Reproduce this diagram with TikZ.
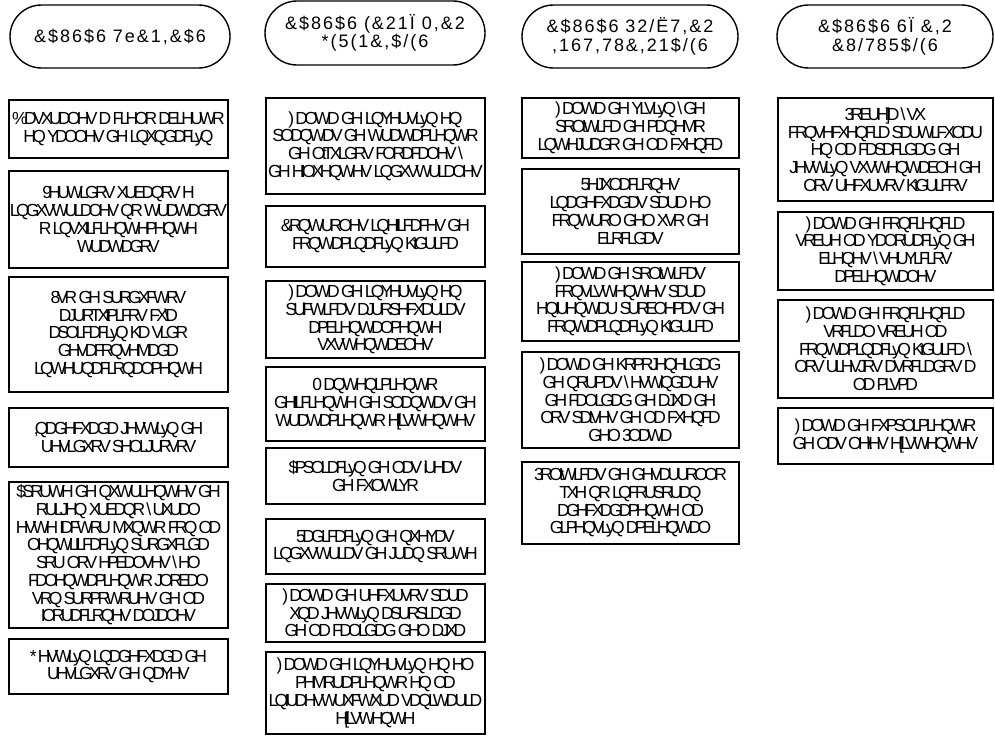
\documentclass[tikz,border=0pt]{standalone}
\usepackage{fontspec}
\setmainfont{Liberation Sans}
\newfontfamily\bodyf{Liberation Sans}[LetterSpace=-21]
\newfontfamily\headf{Liberation Sans}[LetterSpace=11]
\newcommand\bs{\textbackslash}
\usetikzlibrary{shapes.misc}
\tikzset{
  cause/.style={draw, line width=1.7pt, rectangle, align=center, inner sep=0pt,
    font=\bodyf\fontsize{17.5}{17.7}\selectfont},
  head/.style={draw, line width=1.4pt, rounded rectangle, align=center, inner sep=0pt,
    font=\headf\fontsize{18}{18.6}\selectfont},
}
\begin{document}
\begin{tikzpicture}[x=1pt,y=-1pt]
\useasboundingbox (0,0) rectangle (995,736);
% headers
\node[head, minimum width=220pt, minimum height=63pt] (h1) at (120,36.5) {\&\$86\$6 7e\&1,\&\$6};
\node[head, minimum width=220pt, minimum height=64pt] (h2) at (375,33) {\&\$86\$6 (\&21Ï 0,\&2\\{*}(5(1\&,\$/(6};
\node[head, minimum width=216pt, minimum height=63pt] (h3) at (630,36.5) {\&\$86\$6 32/Ë7,\&2\\,167,78\&,21\$/(6};
\node[head, minimum width=216pt, minimum height=63pt] (h4) at (885,36.5) {\&\$86\$6 6Ï \&,2\\\&8/785\$/(6};
% column 1
\node[cause, minimum width=219pt, minimum height=58pt] (a1) at (118.5,129) {\%DVXUDOHV D FLHOR DELHUWR\\HQ YDOOHV GH LQXQGDFLyQ};
\node[cause, minimum width=219pt, minimum height=97pt] (a2) at (118.5,219.5) {9HUWLGRV XUEDQRV H\\LQGXVWULDOHV QR WUDWDGRV\\R LQVXILFLHQWHPHQWH\\WUDWDGRV};
\node[cause, minimum width=219pt, minimum height=115pt] (a3) at (118.5,334.5) {8VR GH SURGXFWRV\\DJURTXtPLFRV FX\bs{}D\\DSOLFDFLyQ KD VLGR\\GHVDFRQVHMDGD\\LQWHUQDFLRQDOPHQWH};
\node[cause, minimum width=219pt, minimum height=59pt] (a4) at (118.5,437.5) {,QDGHFXDGD JHVWLyQ GH\\UHVLGXRV SHOLJURVRV};
\node[cause, minimum width=219pt, minimum height=146pt] (a5) at (118.5,555) {\$SRUWH GH QXWULHQWHV GH\\RULJHQ XUEDQR \bs{} UXUDO\\HVWH IDFWRU MXQWR FRQ OD\\OHQWLILFDFLyQ SURGXFLGD\\SRU ORV HPEDOVHV \bs{} HO\\FDOHQWDPLHQWR JOREDO\\VRQ SURPRWRUHV GH OD\\IORUDFLRQHV DOJDOHV};
\node[cause, minimum width=219pt, minimum height=55pt] (a6) at (118.5,666.5) {* HVWLyQ LQDGHFXDGD GH\\UHVLGXRV GH QDYHV};
% column 2
\node[cause, minimum width=219pt, minimum height=96pt] (b1) at (375.5,146) {) DOWD GH LQYHUVLyQ HQ\\SODQWDV GH WUDWDPLHQWR\\GH OtTXLGRV FORDFDOHV \bs{}\\GH HIOXHQWHV LQGXVWULDOHV};
\node[cause, minimum width=219pt, minimum height=61pt] (b2) at (375.5,236.5) {\&RQWUROHV LQHILFDFHV GH\\FRQWDPLQDFLyQ KtGULFD};
\node[cause, minimum width=219pt, minimum height=77pt] (b3) at (375.5,319.5) {) DOWD GH LQYHUVLyQ HQ\\SUiFWLFDV DJURSHFXDULDV\\DPELHQWDOPHQWH\\VXVWHQWDEOHV};
\node[cause, minimum width=219pt, minimum height=74pt] (b4) at (375.5,404) {0 DQWHQLPLHQWR\\GHILFLHQWH GH SODQWDV GH\\WUDWDPLHQWR H[LVWHQWHV};
\node[cause, minimum width=219pt, minimum height=56pt] (b5) at (375.5,476) {\$PSOLDFLyQ GH ODV iUHDV\\GH FXOWLYR};
\node[cause, minimum width=219pt, minimum height=55pt] (b6) at (375.5,546.5) {5DGLFDFLyQ GH QXHYDV\\LQGXVWULDV GH JUDQ SRUWH};
\node[cause, minimum width=219pt, minimum height=58pt] (b7) at (375.5,613) {) DOWD GH UHFXUVRV SDUD\\XQD JHVWLyQ DSURSLDGD\\GH OD FDOLGDG GHO DJXD};
\node[cause, minimum width=219pt, minimum height=82pt] (b8) at (375.5,693) {) DOWD GH LQYHUVLyQ HQ HO\\PHMRUDPLHQWR HQ OD\\LQIUDHVWUXFWXUD VDQLWDULD\\H[LVWHQWH};
% column 3
\node[cause, minimum width=217pt, minimum height=60pt] (c1) at (630.5,128) {) DOWD GH YLVLyQ \bs{} GH\\SROtWLFD GH PDQHMR\\LQWHJUDGR GH OD FXHQFD};
\node[cause, minimum width=217pt, minimum height=85pt] (c2) at (630.5,211.5) {5HJXODFLRQHV\\LQDGHFXDGDV SDUD HO\\FRQWURO GHO XVR GH\\ELRFLGDV};
\node[cause, minimum width=217pt, minimum height=79pt] (c3) at (630.5,301.5) {) DOWD GH SROtWLFDV\\FRQVLVWHQWHV SDUD\\HQIUHQWDU SUREOHPDV GH\\FRQWDPLQDFLyQ KtGULFD};
\node[cause, minimum width=217pt, minimum height=96pt] (c4) at (630.5,400) {) DOWD GH KRPRJHQHLGDG\\GH QRUPDV \bs{} HVWiQGDUHV\\GH FDOLGDG GH DJXD GH\\ORV SDtVHV GH OD FXHQFD\\GHO 3ODWD};
\node[cause, minimum width=217pt, minimum height=82pt] (c5) at (630.5,503) {3ROtWLFDV GH GHVDUUROOR\\TXH QR LQFRUSRUDQ\\DGHFXDGDPHQWH OD\\GLPHQVLyQ DPELHQWDO};
% column 4
\node[cause, minimum width=215pt, minimum height=103pt] (d1) at (885.5,149.5) {3REUH]D \bs{} VX\\FRQVHFXHQFLD SDUWLFXODU\\HQ OD FDSDFLGDG GH\\JHVWLyQ VXVWHQWDEOH GH\\ORV UHFXUVRV KtGULFRV};
\node[cause, minimum width=215pt, minimum height=78pt] (d2) at (885.5,251) {) DOWD GH FRQFLHQFLD\\VREUH OD YDORUDFLyQ GH\\ELHQHV \bs{} VHUYLFLRV\\DPELHQWDOHV};
\node[cause, minimum width=215pt, minimum height=98pt] (d3) at (885.5,349) {) DOWD GH FRQFLHQFLD\\VRFLDO VREUH OD\\FRQWDPLQDFLyQ KtGULFD \bs{}\\ORV ULHVJRV DVRFLDGRV D\\OD PLVPD};
\node[cause, minimum width=215pt, minimum height=56pt] (d4) at (885.5,436) {) DOWD GH FXPSOLPLHQWR\\GH ODV OH\bs{}HV H[LVWHQWHV};
\end{tikzpicture}
\end{document}
